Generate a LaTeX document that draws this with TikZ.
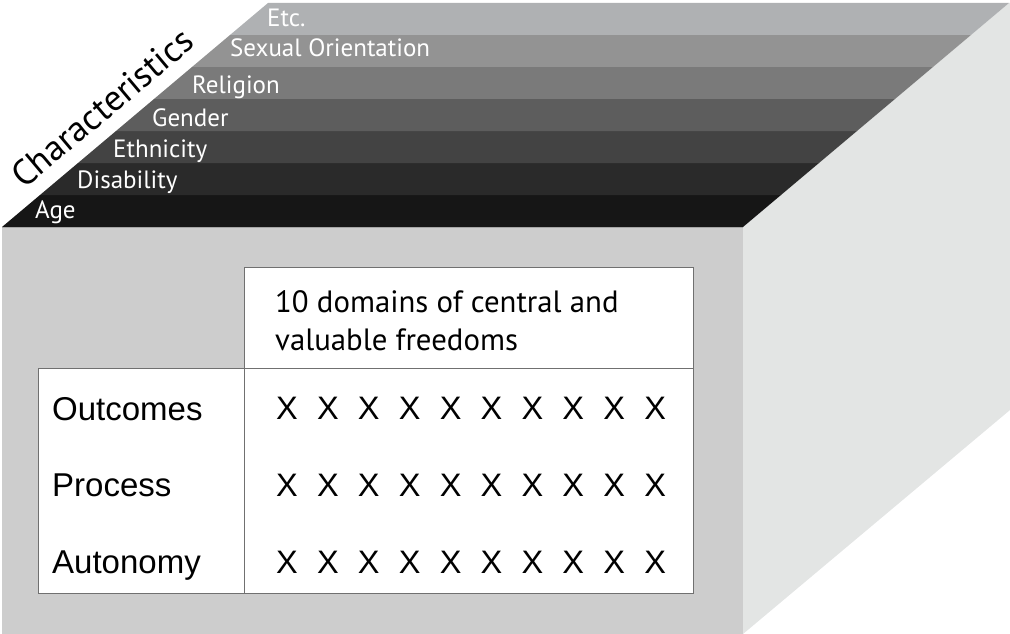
\documentclass[tikz,border=0pt]{standalone}
\usepackage{fontspec}
\newfontfamily\myr{PT Sans}
\newfontfamily\ari{Liberation Sans}
\definecolor{sA}{HTML}{161616}
\definecolor{sB}{HTML}{2A2A2A}
\definecolor{sC}{HTML}{434343}
\definecolor{sD}{HTML}{5D5D5D}
\definecolor{sE}{HTML}{7A7A7A}
\definecolor{sF}{HTML}{939393}
\definecolor{sG}{HTML}{AFB1B3}
\definecolor{frontc}{HTML}{CDCDCD}
\definecolor{sidec}{HTML}{E3E5E4}
\definecolor{linec}{HTML}{707070}
\tikzset{
  striplabel/.style={anchor=base west, inner sep=0, text=white, font=\myr\fontsize{25}{25}\selectfont},
  rowlabel/.style={anchor=base west, inner sep=0, font=\ari\fontsize{33}{33}\selectfont},
  xmark/.style={anchor=base, inner sep=0, font=\ari\fontsize{32.5}{32.5}\selectfont},
  headtext/.style={anchor=base west, inner sep=0, font=\myr\fontsize{30.8}{30.8}\selectfont},
  tline/.style={draw=linec, line width=1pt}
}
\begin{document}
\begin{tikzpicture}[x=1pt,y=-1pt]
\useasboundingbox (0,0) rectangle (1010,634);
% front face
\fill[frontc] (2,227) rectangle (743,634);
% right face
\fill[sidec] (743,227) -- (1009,3) -- (1010,3) -- (1010,410) -- (743,634) -- cycle;
% top stripes
\fill[sA] (2,227) -- (743,227) -- (781,195) -- (40,195) -- cycle;
\fill[sB] (40,195) -- (781,195) -- (819,163) -- (78,163) -- cycle;
\fill[sC] (78,163) -- (819,163) -- (857,131) -- (116,131) -- cycle;
\fill[sD] (116,131) -- (857,131) -- (895,99) -- (154,99) -- cycle;
\fill[sE] (154,99) -- (895,99) -- (933,67) -- (192,67) -- cycle;
\fill[sF] (192,67) -- (933,67) -- (971,35) -- (230,35) -- cycle;
\fill[sG] (230,35) -- (971,35) -- (1009,3) -- (268,3) -- cycle;
\draw[draw=gray!70, line width=0.8pt] (2,227.5) -- (743,227.5);
% stripe labels
\node[striplabel] (age) at (35,218) {Age};
\node[striplabel] (dis) at (77,188) {Disability};
\node[striplabel] (eth) at (113,157) {Ethnicity};
\node[striplabel] (gen) at (152,126) {Gender};
\node[striplabel] (rel) at (192,93) {Religion};
\node[striplabel] (sex) at (230,57) {Sexual Orientation};
\node[striplabel] (etc) at (267,27) {Etc.};
\node[anchor=base west, inner sep=0, rotate=40.1, font=\myr\fontsize{36}{36}\selectfont] (char) at (24,190) {Characteristics};
% table
\fill[white] (244,267) rectangle (693,368);
\fill[white] (38,368) rectangle (693,593);
\draw[tline] (244,368) -- (244,267) -- (693,267) -- (693,593) -- (38,593) -- (38,368) -- (693,368);
\draw[tline] (244,368) -- (244,593);
\node[headtext] (h1) at (275,312) {10 domains of central and};
\node[headtext] (h2) at (275,350) {valuable freedoms};
\node[rowlabel] (out) at (52,420) {Outcomes};
\node[rowlabel] (pro) at (52,496) {Process};
\node[rowlabel] (aut) at (52,573) {Autonomy};
\foreach \i in {0,...,9} {
  \node[xmark] (xo\i) at ({287+40.9*\i},419) {X};
  \node[xmark] (xp\i) at ({287+40.9*\i},496) {X};
  \node[xmark] (xa\i) at ({287+40.9*\i},573) {X};
}
\end{tikzpicture}
\end{document}
